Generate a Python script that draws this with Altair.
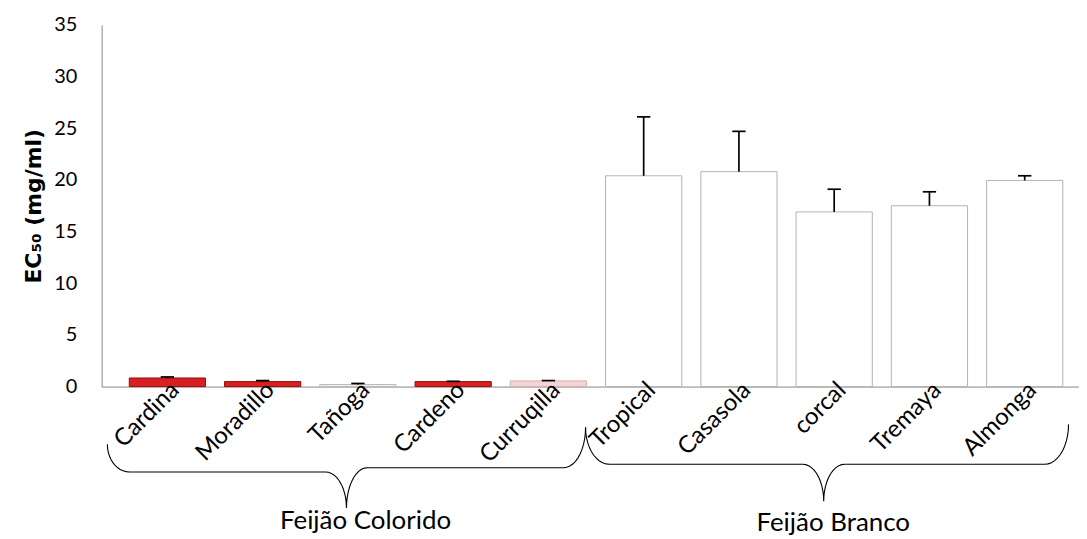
import altair as alt
import pandas as pd
import numpy as np

# ---- data ----
cultivars = ["Cardina", "Moradillo", "Tañoga", "Cardeno", "Curruqilla",
             "Tropical", "Casasola", "corcal", "Tremaya", "Almonga"]
ec50 = [0.83, 0.48, 0.20, 0.48, 0.55, 20.4, 20.8, 16.9, 17.5, 19.95]
err = [0.10, 0.10, 0.10, 0.03, 0.03, 5.7, 3.9, 2.2, 1.35, 0.45]
fills = ["#d62022", "#d62022", "#ececec", "#d62022", "#f3d3d3",
         "#ffffff", "#ffffff", "#ffffff", "#ffffff", "#ffffff"]
strokes = ["#9a0c0c", "#9a0c0c", "#bdbdbd", "#9a0c0c", "#d8b0b0",
           "#b4b4b4", "#b4b4b4", "#b4b4b4", "#b4b4b4", "#b4b4b4"]
group_names = ["Feijão Colorido", "Feijão Branco"]
group_label_x = [2.08, 6.99]
group_label_y = [-13.05, -13.2]

# brace geometry (annotation, in axis units): x0,y0,x1,y1,ymidL,ymidR,xc,tip,r,rc
braces = [
    (-0.63, -5.59, 4.39, -3.95, -8.26, -7.85, 1.88, -11.76, 0.23, 0.22),
    (4.39, -3.95, 9.46, -3.66, -7.52, -7.52, 6.89, -11.09, 0.25, 0.22),
]

idx = list(range(len(cultivars)))
df = pd.DataFrame({
    "i": idx,
    "name": cultivars,
    "v": ec50,
    "top": [a + b for a, b in zip(ec50, err)],
    "xa": [i - 0.4 for i in idx],
    "xb": [i + 0.4 for i in idx],
    "ca": [i - 0.07 for i in idx],
    "cb": [i + 0.07 for i in idx],
    "lx": [i + 0.085 for i in idx],
    "ly": [0.0] * len(idx),
    "fill": fills,
    "stroke": strokes,
})


def brace_points(b):
    x0, y0, x1, y1, ymL, ymR, xc, tip, r, rc = b
    t = np.linspace(0, np.pi / 2, 12)
    pts = []
    pts += list(zip(x0 + r * (1 - np.cos(t)), y0 + (ymL - y0) * np.sin(t)))
    pts += list(zip(xc - rc + rc * np.sin(t), ymL + (tip - ymL) * (1 - np.cos(t))))
    pts += list(zip(xc + rc * (1 - np.cos(t)), tip + (ymR - tip) * np.sin(t)))
    pts += list(zip(x1 - r + r * np.sin(t), ymR + (y1 - ymR) * (1 - np.cos(t))))
    return pts


rows = []
for k, b in enumerate(braces):
    for j, (x, y) in enumerate(brace_points(b)):
        rows.append({"b": k, "o": j, "x": float(x), "y": float(y)})
brace_df = pd.DataFrame(rows)

glab = pd.DataFrame({"x": group_label_x, "y": group_label_y, "t": group_names})

FONT = "Lato"
xscale = alt.Scale(domain=[-0.69, 9.57], nice=False, zero=False)
yscale = alt.Scale(domain=[0, 35], nice=False)

xaxis = alt.Axis(values=idx, labels=False, ticks=False, grid=False,
                 domainColor="#868686", title=None)
yaxis = alt.Axis(values=[0, 5, 10, 15, 20, 25, 30, 35], ticks=False, grid=False,
                 domainColor="#868686", labelFont=FONT, labelFontSize=20,
                 labelColor="#000", labelPadding=25,
                 title="EC₅₀ (mg/ml)", titleFont="DejaVu Sans", titleFontSize=22,
                 titleFontWeight="bold", titleColor="#000", titlePadding=8)

X = lambda f: alt.X(f, scale=xscale, axis=xaxis)
Y = lambda f: alt.Y(f, scale=yscale, axis=yaxis)

base = alt.Chart(df)

shadow = base.mark_bar(color="#8a8a8a", opacity=0.45, xOffset=3, yOffset=2).encode(
    x=X("xa:Q"), x2="xb:Q", y=Y("v:Q"), y2=alt.datum(0),
)

bars = base.mark_bar(strokeWidth=1).encode(
    x=X("xa:Q"), x2="xb:Q", y=Y("v:Q"), y2=alt.datum(0),
    fill=alt.Fill("fill:N", scale=None),
    stroke=alt.Stroke("stroke:N", scale=None),
)

errs = base.mark_rule(color="#000", strokeWidth=1.7).encode(
    x=X("i:Q"), y=Y("v:Q"), y2="top:Q",
)

caps = base.mark_rule(color="#000", strokeWidth=1.7).encode(
    x=X("ca:Q"), x2="cb:Q", y=Y("top:Q"),
)

xlabels = base.mark_text(font=FONT, fontSize=24, color="#000", angle=315,
                         align="right", baseline="middle").encode(
    x=X("lx:Q"), y=Y("ly:Q"), text="name:N",
)

brace = alt.Chart(brace_df).mark_line(color="#000", strokeWidth=1.1).encode(
    x=X("x:Q"), y=Y("y:Q"), detail="b:N", order="o:Q",
)

gtext = alt.Chart(glab).mark_text(font=FONT, fontSize=26, color="#000",
                                  baseline="middle", align="center").encode(
    x=X("x:Q"), y=Y("y:Q"), text="t:N",
)

chart = alt.layer(shadow, bars, errs, caps, xlabels, brace, gtext).properties(
    width=981, height=363,
    background="white",
    autosize=alt.AutoSizeParams(type="none"),
    padding={"left": 94, "top": 16, "right": 0, "bottom": 150},
).configure_view(stroke=None)

chart.save("out.html", embed_options={"renderer": "svg", "actions": False})
